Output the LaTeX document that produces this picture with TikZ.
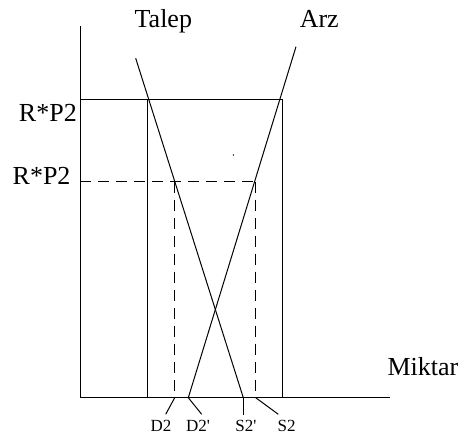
\documentclass[tikz,border=0pt]{standalone}
\usepackage{fontspec}
\setmainfont{Liberation Serif}
\usetikzlibrary{positioning}
\begin{document}
\begin{tikzpicture}[x=1pt,y=-1pt,line width=1pt,
  biglbl/.style={font=\fontsize{26}{30}\selectfont,inner sep=0pt,anchor=base},
  smalllbl/.style={font=\fontsize{17}{20}\selectfont,inner sep=0pt,anchor=base},
  guide/.style={dash pattern=on 11pt off 7pt}]
\useasboundingbox (0,0) rectangle (465,436);
% axes
\coordinate (O) at (80.3,397.7);
\coordinate (ytop) at (80.3,26);
\coordinate (xend) at (390,397.7);
\draw (ytop) -- (O) -- (xend);
% price levels
\coordinate (pA) at (80.3,99.3);
\coordinate (pL) at (147.7,99.3);
\coordinate (pR) at (282.7,99.3);
\coordinate (pLb) at (147.7,397.7);
\coordinate (pRb) at (282.7,397.7);
\draw (pA) -- (pR) -- (pRb);
\draw (pL) -- (pLb);
\coordinate (qA) at (80.3,181.7);
\coordinate (qD) at (174.7,181.7);
\coordinate (qS) at (255.7,181.7);
\coordinate (qDb) at (174.7,397.7);
\coordinate (qSb) at (255.7,397.7);
\draw[guide] (qA) -- (qS);
\draw[guide] (qD) -- (qDb);
\draw[guide] (qS) -- (qSb);
% curves
\coordinate (talepTop) at (135.7,58.3);
\coordinate (talepBot) at (243.3,397.7);
\coordinate (arzTop) at (296,46.7);
\coordinate (arzBot) at (188.3,397.7);
\draw (talepTop) -- (talepBot);
\draw (arzTop) -- (arzBot);
\fill (233.3,155) circle (0.8pt);
% labels
\node[biglbl] (talep) at (163.3,27.3) {Talep};
\node[biglbl] (arz) at (319.3,27.3) {Arz};
\node[biglbl,anchor=base east] (pHigh) at (77.3,121.7) {R*P2};
\node[biglbl,anchor=base east] (pLow) at (71,184) {R*P2};
\node[biglbl,anchor=base west] (miktar) at (387,375) {Miktar};
\node[smalllbl] (lD2) at (161,431.7) {D2};
\node[smalllbl] (lD2p) at (198,431.7) {D2\textquotesingle};
\node[smalllbl] (lS2p) at (246,431.7) {S2\textquotesingle};
\node[smalllbl] (lS2) at (286.7,431.7) {S2};
\coordinate (eD2) at (165.7,414.3);
\coordinate (eD2p) at (201.7,414.3);
\coordinate (eS2p) at (243.3,415);
\coordinate (eS2) at (278.3,414.3);
\draw (qDb) -- (eD2);
\draw (arzBot) -- (eD2p);
\draw (talepBot) -- (eS2p);
\draw (qSb) -- (eS2);
\end{tikzpicture}
\end{document}
